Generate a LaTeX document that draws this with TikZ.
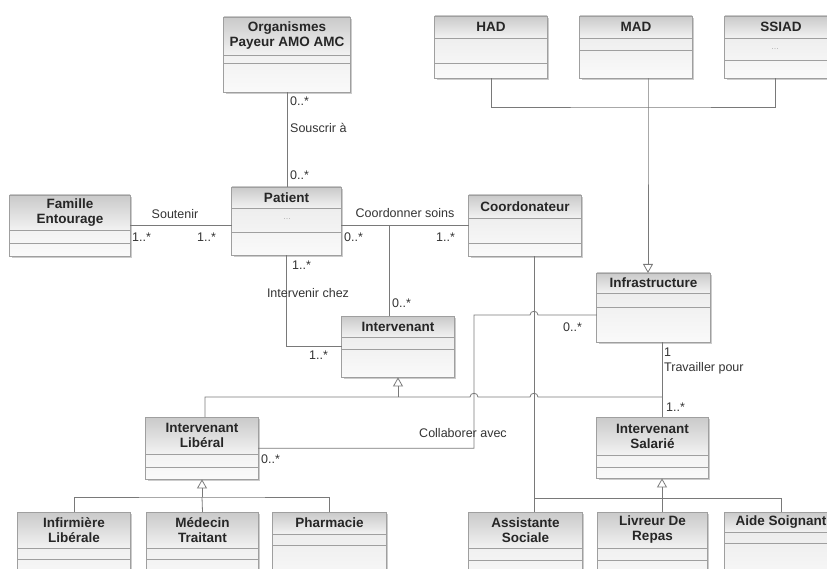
\documentclass[tikz,border=0pt]{standalone}
\usepackage{fontspec}
\setmainfont{Liberation Sans}
\usepackage{tikz}
\usetikzlibrary{arrows.meta,shadows}

\tikzset{
  classbox/.style={top color=gray!18, bottom color=gray!4, inner sep=0pt,
    drop shadow={shadow xshift=1.5pt, shadow yshift=-1.5pt, opacity=.4, fill=gray}},
  classline/.style={draw=gray!75, line width=.7pt},
  title/.style={font=\bfseries\fontsize{13.5}{15}\selectfont, align=center, text=black!85, inner sep=0pt},
  lbl/.style={font=\fontsize{12.5}{14}\selectfont, text=black!80, inner sep=1pt},
  dots/.style={font=\fontsize{9}{10}\selectfont, text=gray!60},
  line/.style={draw=gray!95!black, line width=.8pt},
  inherit/.style={line, -{Triangle[open, length=9pt, width=10pt]}},
}

% class box: name, center x, top, width, height, header, attributes, title
\newcommand{\umlclass}[8]{%
  \node[classbox, minimum width=#4, minimum height=#5, anchor=north] (#1) at (#2,#3) {};
  \shade[top color=gray!42, bottom color=gray!10] (#1.north west) rectangle ([yshift=-#6pt]#1.north east);
  \draw[classline] (#1.north west) rectangle (#1.south east);
  \draw[classline] ([yshift=-#6pt]#1.north west) -- ([yshift=-#6pt]#1.north east);
  \draw[classline] ([yshift=-#6pt-#7pt]#1.north west) -- ([yshift=-#6pt-#7pt]#1.north east);
  \node[title] at (#2,{#3+#6/2}) {#8};
}

\begin{document}
\begin{tikzpicture}[x=1pt,y=-1pt]
\useasboundingbox (0,0) rectangle (827,569);

% classes
\umlclass{orga}{287}{17}{126}{75}{38}{8}{Organismes\\Payeur AMO AMC}
\umlclass{had}{491}{16}{112}{62}{22}{25}{HAD}
\umlclass{mad}{636}{16}{112}{62}{22}{12}{MAD}
\umlclass{ssiad}{781}{16}{112}{62}{22}{22}{SSIAD}
\umlclass{famille}{70}{195}{120}{61}{35}{13}{Famille\\Entourage}
\umlclass{patient}{286.5}{187}{109}{68}{21}{24}{Patient}
\umlclass{coord}{525}{195}{112}{61}{23}{25}{Coordonateur}
\umlclass{interv}{398}{316}{112}{61}{21}{12}{Intervenant}
\umlclass{infra}{653.5}{273}{113}{69}{20}{14}{Infrastructure}
\umlclass{lib}{202}{417}{112}{62}{37}{13}{Intervenant\\Libéral}
\umlclass{sal}{652.5}{417}{111}{61}{38}{12}{Intervenant\\Salarié}
\umlclass{inf}{74}{512}{112}{75}{36}{11}{Infirmière\\Libérale}
\umlclass{med}{202.5}{512}{111}{75}{36}{11}{Médecin\\Traitant}
\umlclass{pharm}{329.5}{512}{113}{75}{22}{11}{Pharmacie}
\umlclass{asso}{525.5}{512}{113}{75}{36}{12}{Assistante\\Sociale}
\umlclass{livr}{652.5}{512}{109}{75}{36}{12}{Livreur De\\Repas}
\umlclass{aide}{781}{512}{112}{75}{20}{11}{Aide Soignant}
\node[dots] (pdots) at (287,219) {...};
\node[dots] (sdots) at (775,49) {...};

% HAD, MAD, SSIAD -> Infrastructure
\coordinate (hj) at (648,107);
\draw[line] (had.south) |- (hj) -| ([xshift=-6pt]ssiad.south);
\draw[inherit] ([xshift=12pt]mad.south) -- (hj) -- (hj |- infra.north);

% associations
\draw[line] (orga.south) -- (orga.south |- patient.north);
\draw[line] (famille.east) -- (famille.east -| patient.west);
\draw[line] (patient.east |- coord.west) -- (coord.west);
\coordinate (cj) at (389,225.5);
\draw[line] (cj) -- (cj |- interv.north);
\draw[line] (patient.south) |- (interv.west);
\draw[line] ([xshift=9pt]coord.south) -- ([xshift=9pt]coord.south |- asso.north);
\draw[line] ([xshift=8.5pt]infra.south) -- ([xshift=8.5pt]infra.south |- sal.north);
\coordinate (cb) at (474,315);
\draw[line] (lib.east) -| (cb) -- (530,315) .. controls (530,310) and (538,310) .. (538,315) -- (cb -| infra.west);

% Intervenant generalisation
\coordinate (ij) at (398,397);
\draw[inherit] (ij) -- (interv.south);
\draw[line] ([xshift=3pt]lib.north) |- (ij) -- (470,397) .. controls (470,392) and (478,392) .. (478,397)
  -- (530,397) .. controls (530,392) and (538,392) .. (538,397) -- ([xshift=9.5pt]sal.north |- ij);

% Intervenant Liberal generalisation
\coordinate (lj) at (202,497);
\draw[inherit] (lj) -- (lib.south);
\draw[line] (inf.north) |- (lj) -| (pharm.north);
\draw[line] (lj) -- (med.north);

% Intervenant Salarie generalisation
\coordinate (sj) at (662,498);
\draw[inherit] (sj) -- (sj |- sal.south);
\draw[line] ([xshift=9pt]coord.south |- sj) -- (sj -| aide.north) -- (aide.north);
\draw[line] (sj) -- (sj |- livr.north);

% labels
\node[lbl, anchor=west] (m1) at (289,101) {0..*};
\node[lbl, anchor=west] (souscrir) at (289,128) {Souscrir à};
\node[lbl, anchor=west] (m2) at (289,175) {0..*};
\node[lbl] (soutenir) at (175,214) {Soutenir};
\node[lbl, anchor=west] (m3) at (131,237) {1..*};
\node[lbl, anchor=west] (m4) at (196,237) {1..*};
\node[lbl] (coordsoins) at (405,213) {Coordonner soins};
\node[lbl, anchor=west] (m5) at (343,237) {0..*};
\node[lbl, anchor=west] (m6) at (435,237) {1..*};
\node[lbl, anchor=west] (m7) at (391,303) {0..*};
\node[lbl, anchor=west] (m8) at (291,265) {1..*};
\node[lbl] (intervenir) at (308,293) {Intervenir chez};
\node[lbl, anchor=west] (m9) at (308,355) {1..*};
\node[lbl, anchor=west] (m10) at (260,459) {0..*};
\node[lbl] (collaborer) at (463,433) {Collaborer avec};
\node[lbl, anchor=west] (m11) at (562,327) {0..*};
\node[lbl, anchor=west] (m12) at (663,352) {1};
\node[lbl, anchor=west] (travailler) at (663,368) {Travailler pour};
\node[lbl, anchor=west] (m13) at (665,407) {1..*};
\end{tikzpicture}
\end{document}
